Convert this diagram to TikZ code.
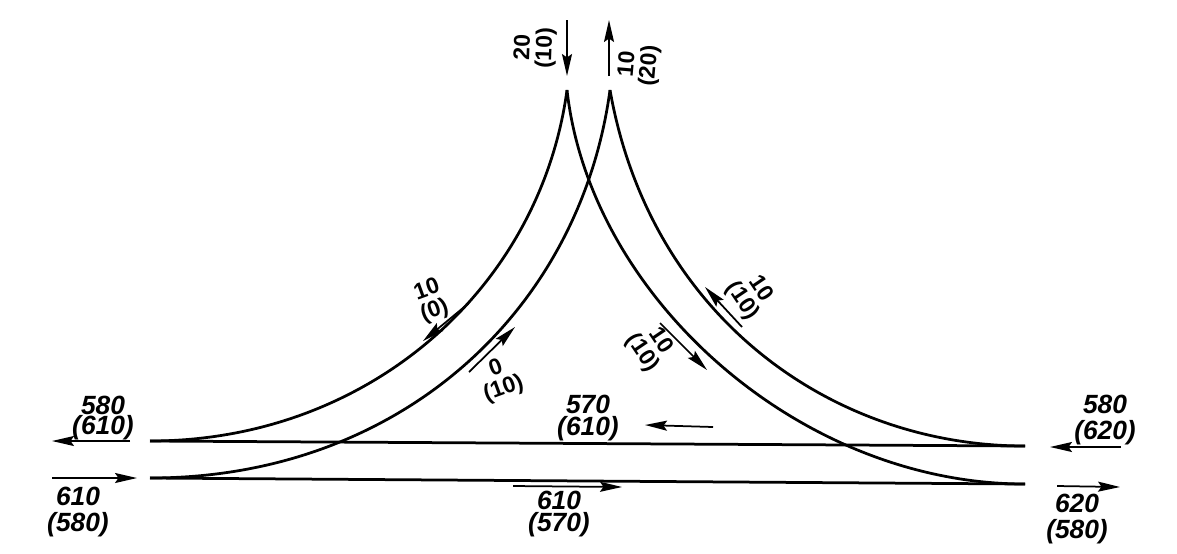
\documentclass[tikz,border=0pt]{standalone}
\usepackage{fontspec}
\setmainfont{Liberation Sans}
\usetikzlibrary{arrows.meta}
\setlength{\normallineskiplimit}{-1in}

\begin{document}
\begin{tikzpicture}[
  x=.2mm,y=-.2mm,
  flow/.style={align=center,inner sep=0pt,font=\bfseries\itshape\fontsize{15}{11}\selectfont},
  rampflow/.style={align=center,inner sep=0pt,font=\bfseries\fontsize{13}{12.5}\selectfont},
  road/.style={draw=black,line width=.55mm},
  arrow/.style={-{Stealth[length=4.4mm,width=2mm,inset=.7mm]},draw=black,line width=.35mm}
]
\useasboundingbox (0,0) rectangle (1177,553);
% ends of the roads
\coordinate (topl) at (567,90);
\coordinate (topr) at (610,90);
\coordinate (westa) at (150,441);
\coordinate (westb) at (150,478);
\coordinate (easta) at (1025,446);
\coordinate (eastb) at (1025,484);
% roads
\draw[road] (westa) -- (easta);
\draw[road] (westb) -- (eastb);
\draw[road] (topl) .. controls (540,289) and (368,441) .. (westa);
\draw[road] (topr) .. controls (580,311) and (400,478) .. (westb);
\draw[road] (topr) .. controls (650,317) and (832,446) .. (easta);
\draw[road] (topl) .. controls (590,297) and (799,484) .. (eastb);
% flow labels
\node[rampflow,rotate=88] (north1) at (535,48) {20\\(10)};
\node[rampflow,rotate=85] (north2) at (639,65) {10\\(20)};
\node[rampflow,rotate=20] (ramp1) at (431,301) {10\\(0)};
\node[rampflow,rotate=20] (ramp2) at (500,379) {0\\(10)};
\node[rampflow,rotate=-56] (ramp3) at (651,347) {10\\(10)};
\node[rampflow,rotate=-56] (ramp4) at (751,295) {10\\(10)};
\node[flow] (west1) at (103,418) {580\\[-1pt](610)};
\node[flow] (west2) at (78,512) {610\\[2.5pt](580)};
\node[flow] (mid1) at (588,418) {570\\(610)};
\node[flow] (mid2) at (559,514) {610\\[1pt](570)};
\node[flow] (east1) at (1105,420) {580\\[2.5pt](620)};
\node[flow] (east2) at (1077,519) {620\\[2.5pt](580)};
% ends of the flow arrows
\coordinate (a1s) at (567,20); \coordinate (a1e) at (567,76);
\coordinate (a2s) at (609,76); \coordinate (a2e) at (609,20);
\coordinate (a3s) at (469,303); \coordinate (a3e) at (423,341);
\coordinate (a4s) at (469,372); \coordinate (a4e) at (515,327);
\coordinate (a5s) at (660,323); \coordinate (a5e) at (707,370);
\coordinate (a6s) at (742,327); \coordinate (a6e) at (705,287);
\coordinate (a7s) at (130,441); \coordinate (a7e) at (52,441);
\coordinate (a8s) at (52,478); \coordinate (a8e) at (137,478);
\coordinate (a9s) at (713,427); \coordinate (a9e) at (645,425);
\coordinate (a10s) at (513,486); \coordinate (a10e) at (622,487);
\coordinate (a11s) at (1121,447); \coordinate (a11e) at (1050,447);
\coordinate (a12s) at (1057,486); \coordinate (a12e) at (1120,487);
% flow arrows
\foreach \i in {1,...,12}{
  \draw[arrow] (a\i s) -- (a\i e);
}
\end{tikzpicture}
\end{document}
